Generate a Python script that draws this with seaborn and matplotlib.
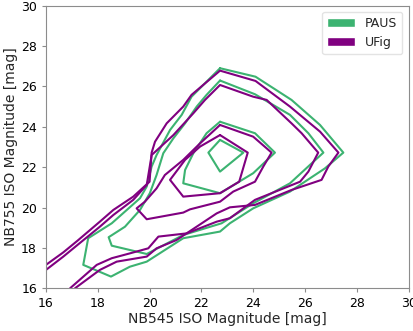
import matplotlib
matplotlib.use("Agg")
import matplotlib.pyplot as plt
from matplotlib.patches import Patch
import pandas as pd
import seaborn as sns

# PAUS contours (outer -> inner), closed polygons
paus_c1_x = [22.72, 24.09, 25.48, 26.58, 27.48, 26.77, 25.42, 24.00, 23.10, 22.72, 21.30, 19.89,
             19.24, 18.51, 17.44, 17.63, 18.54, 19.63, 19.89, 20.08, 20.27, 20.79, 21.24, 21.62]
paus_c1_y = [26.90, 26.48, 25.33, 24.09, 22.72, 21.94, 20.79, 19.96, 19.22, 18.81, 18.48, 17.32,
             17.07, 16.58, 17.16, 18.48, 19.22, 20.46, 21.04, 22.03, 22.60, 23.84, 24.59, 25.49]
paus_c2_x = [22.72, 24.07, 25.42, 26.13, 26.71, 26.19, 25.42, 24.00, 22.78, 21.30, 19.89, 18.54,
             18.42, 19.05, 19.63, 20.01, 20.27, 20.53, 20.92, 21.37, 21.82, 22.20]
paus_c2_y = [26.29, 25.61, 24.59, 23.68, 22.72, 22.11, 21.20, 20.21, 19.22, 18.64, 17.70, 18.11,
             18.53, 19.05, 19.88, 20.71, 21.61, 22.69, 23.43, 24.17, 25.00, 25.58]
paus_c3_x = [22.72, 24.07, 24.84, 24.00, 22.72, 21.30, 21.37, 21.69, 22.20]
paus_c3_y = [24.25, 23.68, 22.72, 21.70, 20.71, 21.20, 21.86, 22.69, 23.68]
paus_c4_x = [22.72, 23.62, 22.72, 22.27]
paus_c4_y = [23.35, 22.72, 21.78, 22.72]

# UFig contours; the two outer ones leave the axes
ufig_c1_x = [16.00, 16.67, 17.22, 18.08, 18.60, 19.37, 20.00, 20.08, 20.21, 20.66, 21.30, 21.62,
             22.72, 24.09, 25.42, 26.58, 27.29, 26.90, 26.64, 25.48, 24.07, 23.10, 22.59, 21.04,
             20.27, 19.89, 18.73, 18.08, 17.12]
ufig_c1_y = [17.16, 17.78, 18.36, 19.30, 19.88, 20.54, 21.28, 22.72, 23.26, 24.17, 25.00, 25.58,
             26.78, 26.27, 25.00, 23.76, 22.72, 22.03, 21.37, 20.87, 20.13, 20.01, 19.71, 18.39,
             17.98, 17.57, 17.32, 16.91, 16.00]
ufig_c2_x = [16.00, 16.67, 17.22, 18.08, 18.60, 19.37, 19.89, 20.08, 20.92, 21.69, 22.14, 22.72,
             24.00, 24.52, 25.48, 25.87, 26.51, 26.13, 25.81, 24.07, 23.10, 22.59, 21.43, 20.34,
             19.95, 19.24, 18.54, 17.96, 16.93]
ufig_c2_y = [16.91, 17.57, 18.15, 19.05, 19.63, 20.38, 21.12, 22.60, 23.59, 24.67, 25.33, 26.07,
             25.49, 25.33, 24.17, 23.68, 22.72, 21.78, 21.28, 20.38, 19.47, 19.30, 18.72, 18.56,
             17.98, 17.73, 17.49, 17.16, 16.00]
ufig_c3_x = [22.72, 24.00, 24.71, 24.39, 24.07, 23.23, 22.72, 21.56, 21.30, 19.89, 19.50, 19.82,
             20.27, 20.59, 21.30, 21.95]
ufig_c3_y = [24.09, 23.51, 22.72, 22.03, 21.28, 20.79, 20.29, 19.91, 19.75, 19.42, 19.96, 20.29,
             20.95, 21.61, 22.36, 23.18]
ufig_c4_x = [22.72, 23.79, 23.46, 22.72, 21.30, 20.79, 21.37, 21.95]
ufig_c4_y = [23.59, 22.72, 21.28, 20.71, 20.54, 21.37, 22.36, 23.02]

paus_color = "#3cb371"
ufig_color = "#800080"


def make_frame(xs, ys, closed):
    xs, ys = list(xs), list(ys)
    if closed:
        xs.append(xs[0])
        ys.append(ys[0])
    return pd.DataFrame({"x": xs, "y": ys})


contours = [
    (paus_c1_x, paus_c1_y, True, paus_color),
    (paus_c2_x, paus_c2_y, True, paus_color),
    (paus_c3_x, paus_c3_y, True, paus_color),
    (paus_c4_x, paus_c4_y, True, paus_color),
    (ufig_c1_x, ufig_c1_y, False, ufig_color),
    (ufig_c2_x, ufig_c2_y, False, ufig_color),
    (ufig_c3_x, ufig_c3_y, True, ufig_color),
    (ufig_c4_x, ufig_c4_y, True, ufig_color),
]

sns.set_style("ticks", {"axes.edgecolor": "#8c8c8c", "xtick.color": "#8c8c8c",
                        "ytick.color": "#8c8c8c"})
plt.rcParams["font.family"] = ["DejaVu Sans"]

fig = plt.figure(figsize=(4.14, 3.31), dpi=100)
ax = fig.add_axes([0.111, 0.129, 0.876, 0.854])

for xs, ys, closed, color in contours:
    df = make_frame(xs, ys, closed)
    sns.lineplot(data=df, x="x", y="y", sort=False, estimator=None,
                 color=color, lw=1.5, ax=ax)

ax.set_xlim(16, 30)
ax.set_ylim(16, 30)
ax.set_xticks(range(16, 31, 2))
ax.set_yticks(range(16, 31, 2))
ax.tick_params(labelsize=9, labelcolor="black", length=3, width=0.8)
ax.set_xlabel("NB545 ISO Magnitude [mag]", fontsize=10, labelpad=1)
ax.set_ylabel("NB755 ISO Magnitude [mag]", fontsize=10, labelpad=2)
for s in ax.spines.values():
    s.set_linewidth(0.8)

handles = [Patch(facecolor=paus_color, label="PAUS"),
           Patch(facecolor=ufig_color, label="UFig")]
ax.legend(handles=handles, loc="upper right", fontsize=9, frameon=True,
          handlelength=2.2, edgecolor="#dddddd")

fig.savefig("out.png", dpi=100)
